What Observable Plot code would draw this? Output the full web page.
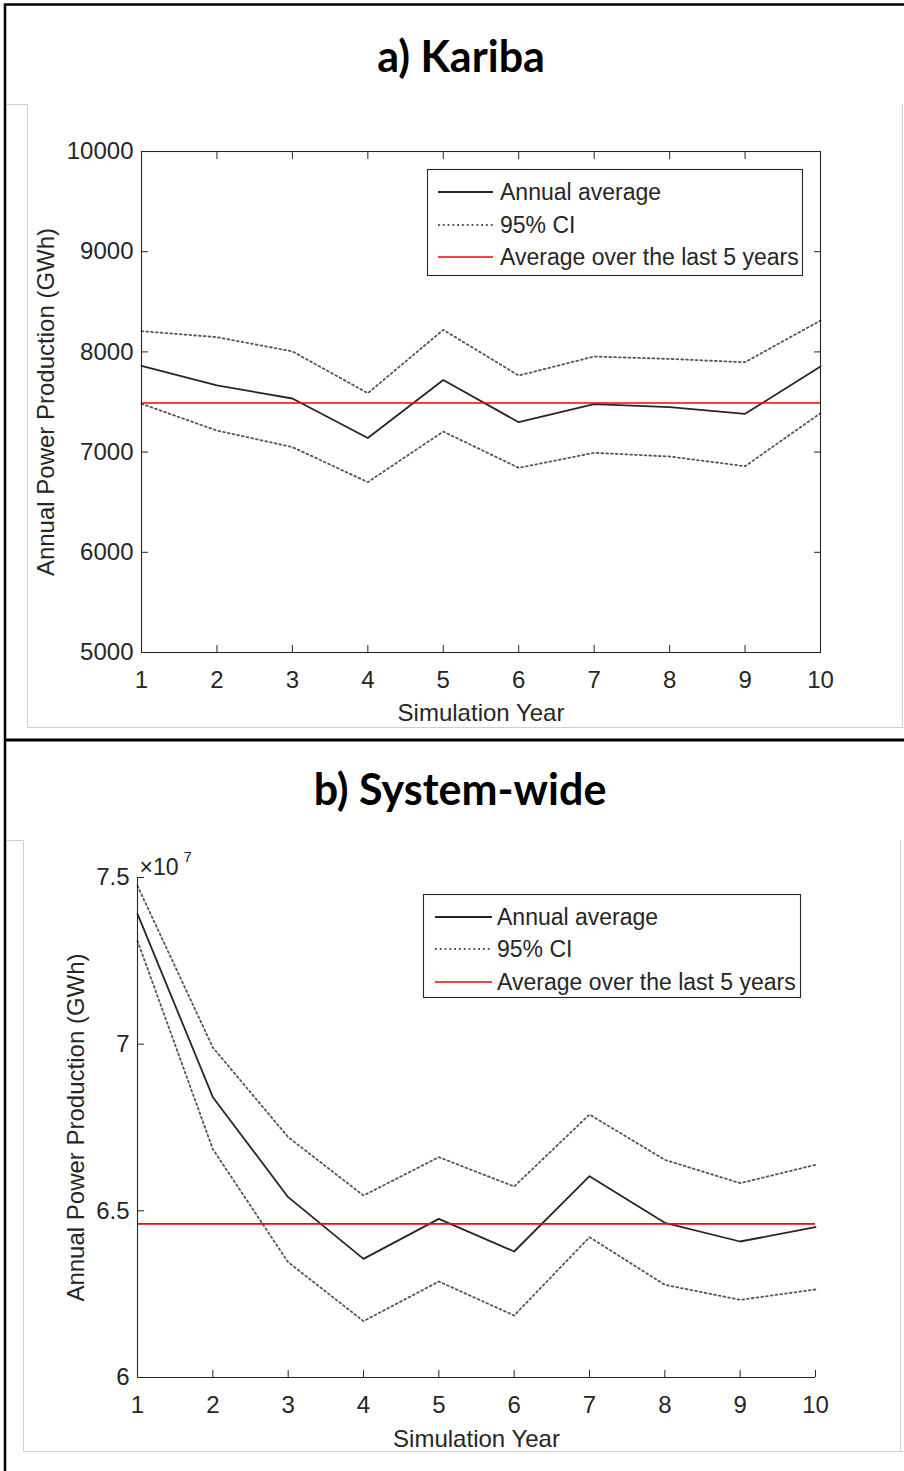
<!DOCTYPE html>
<html>
<head>
<meta charset="utf-8">
<script src="https://cdn.jsdelivr.net/npm/d3@7"></script>
<script src="https://cdn.jsdelivr.net/npm/@observablehq/plot@0.6"></script>
<style>
  html, body { margin: 0; padding: 0; background: #fff; }
  #page { position: relative; width: 904px; height: 1471px; overflow: hidden; background: #fff; }
  #page > svg { position: absolute; }
</style>
</head>
<body>
<div id="page"></div>
<script>
// ---------------- data ----------------
const years = [1, 2, 3, 4, 5, 6, 7, 8, 9, 10];

// a) Kariba (GWh)
const karibaAvg   = [7860, 7665, 7535, 7140, 7720, 7298, 7478, 7448, 7382, 7854];
const karibaUpper = [8207, 8147, 8005, 7588, 8220, 7764, 7954, 7930, 7897, 8313];
const karibaLower = [7482, 7215, 7050, 6700, 7205, 6843, 6993, 6956, 6859, 7388];
const karibaLast5 = 7490;
const karibaTicks = [5000, 6000, 7000, 8000, 9000, 10000];

// b) System-wide (x 10^7 GWh)
const systemAvg   = [7.391, 6.841, 6.541, 6.356, 6.476, 6.378, 6.604, 6.464, 6.408, 6.451];
const systemUpper = [7.475, 6.990, 6.721, 6.546, 6.661, 6.573, 6.789, 6.653, 6.583, 6.638];
const systemLower = [7.310, 6.685, 6.346, 6.169, 6.288, 6.186, 6.421, 6.278, 6.233, 6.264];
const systemLast5 = 6.461;
const systemTicks = [6, 6.5, 7, 7.5];

const titles = ["a) Kariba", "b) System-wide"];
const xLabel = "Simulation Year";
const yLabel = "Annual Power Production (GWh)";
const legendLabels = ["Annual average", "95% CI", "Average over the last 5 years"];

// ---------------- styles ----------------
const ink = "#262626";
const ciColor = "#555555";
const redColor = "#ff0000";
const sansFont = "'Liberation Sans', Arial, Helvetica, sans-serif";
const titleFont = "Lato, 'Open Sans', sans-serif";
const ciDash = "1.8,3";

const page = document.getElementById("page");

// ---------------- background (borders, titles) ----------------
const bg = d3.create("svg").attr("width", 904).attr("height", 1471)
  .style("left", "0px").style("top", "0px");
const grey = "#cfcfcf";
bg.append("path").attr("fill", "none").attr("stroke", grey).attr("stroke-width", 1)
  .attr("d", "M5,104.5H27.5V727.5H903.5M902.5,104V727");
bg.append("path").attr("fill", "none").attr("stroke", grey).attr("stroke-width", 1)
  .attr("d", "M5,840.5H23.5V1451.5H903.5M900.5,840V1451");
bg.append("path").attr("fill", "none").attr("stroke", "#000").attr("stroke-width", 2.5)
  .attr("d", "M5,1471V4.5H904");
bg.append("rect").attr("x", 4).attr("y", 738.5).attr("width", 900).attr("height", 3).attr("fill", "#000");
bg.append("text").attr("x", 461).attr("y", 72).attr("text-anchor", "middle")
  .attr("font-family", titleFont).attr("font-weight", 700).attr("font-size", 43).attr("fill", "#000")
  .text(titles[0]);
bg.append("text").attr("x", 460).attr("y", 805).attr("text-anchor", "middle")
  .attr("font-family", titleFont).attr("font-weight", 700).attr("font-size", 43).attr("fill", "#000")
  .text(titles[1]);
page.appendChild(bg.node());

// ---------------- panels ----------------
function makePanel(cfg) {
  const marks = [
    Plot.line(cfg.upper, {x: years, y: d => d, stroke: ciColor, strokeWidth: 1.8, strokeDasharray: ciDash}),
    Plot.line(cfg.lower, {x: years, y: d => d, stroke: ciColor, strokeWidth: 1.8, strokeDasharray: ciDash}),
    Plot.line(cfg.avg, {x: years, y: d => d, stroke: ink, strokeWidth: 1.8}),
    Plot.ruleY([cfg.last5], {stroke: redColor, strokeWidth: 1.7}),
    Plot.axisX({ticks: years, anchor: "bottom", tickSize: -7, tickPadding: 25, tickFormat: d3.format("d"),
      label: null, color: ink, fontSize: 24}),
    Plot.axisY({ticks: cfg.yTicks, anchor: "left", tickSize: -7, tickPadding: 15, tickFormat: cfg.yFormat,
      label: null, color: ink, fontSize: 24}),
    Plot.text([xLabel], {text: d => d, frameAnchor: "bottom", textAnchor: "middle", dy: cfg.xLabelDy,
      fontSize: 24, fill: ink, lineAnchor: "middle"}),
    Plot.text([yLabel], {text: d => d, frameAnchor: "left", textAnchor: "middle", dx: cfg.yLabelDx, rotate: -90,
      fontSize: 24, fill: ink, lineAnchor: "middle"})
  ];
  if (cfg.box) {
    marks.push(
      Plot.frame({stroke: ink, strokeWidth: 1.1}),
      Plot.axisX({ticks: years, anchor: "top", tickSize: -7, tickFormat: () => "", label: null, color: ink}),
      Plot.axisY({ticks: cfg.yTicks, anchor: "right", tickSize: -7, tickFormat: () => "", label: null, color: ink})
    );
  } else {
    marks.push(
      Plot.ruleX([years[0]], {stroke: ink, strokeWidth: 1.1}),
      Plot.ruleY([cfg.yDomain[0]], {stroke: ink, strokeWidth: 1.1})
    );
  }
  if (cfg.exponent) {
    marks.push(
      Plot.text(["\u00d710"], {text: d => d, frameAnchor: "top-left", textAnchor: "start", lineAnchor: "bottom",
        dx: 2, dy: -3, fontSize: 23, fill: ink}),
      Plot.text([cfg.exponent], {text: d => d, frameAnchor: "top-left", textAnchor: "start", lineAnchor: "bottom",
        dx: 46, dy: -16, fontSize: 15, fill: ink})
    );
  }
  return Plot.plot({
    width: 904,
    height: cfg.height,
    marginTop: cfg.mt, marginRight: cfg.mr, marginBottom: cfg.mb, marginLeft: cfg.ml,
    style: {background: "transparent", overflow: "visible", fontFamily: sansFont, fontSize: "24px", color: ink},
    x: {domain: [years[0], years[years.length - 1]]},
    y: {domain: cfg.yDomain},
    marks
  });
}

const p1 = makePanel({
  avg: karibaAvg, upper: karibaUpper, lower: karibaLower, last5: karibaLast5,
  yDomain: [5000, 10000], yTicks: karibaTicks, yFormat: d3.format("d"),
  height: 620, mt: 41, mr: 84, mb: 78, ml: 141, box: true, yLabelDx: -95, xLabelDy: 61
});
p1.style.left = "0px"; p1.style.top = "110px";
page.appendChild(p1);

const p2 = makePanel({
  avg: systemAvg, upper: systemUpper, lower: systemLower, last5: systemLast5,
  yDomain: [6, 7.5], yTicks: systemTicks, yFormat: d => String(d),
  height: 600, mt: 32, mr: 89, mb: 68, ml: 137, box: false, yLabelDx: -61, xLabelDy: 62, exponent: "7"
});
p2.style.left = "0px"; p2.style.top = "845px";
page.appendChild(p2);

// ---------------- legends ----------------
function legend(x, y, w, h, rowY, lineX0, lineX1, textX) {
  const s = d3.create("svg").attr("width", 904).attr("height", 1471).style("left", "0px").style("top", "0px");
  s.append("rect").attr("x", x + 0.5).attr("y", y + 0.5).attr("width", w).attr("height", h)
    .attr("fill", "#fff").attr("stroke", ink).attr("stroke-width", 1.1);
  const styles = [
    {stroke: ink, dash: null, width: 1.8},
    {stroke: ciColor, dash: ciDash, width: 1.8},
    {stroke: redColor, dash: null, width: 1.7}
  ];
  legendLabels.forEach((lab, i) => {
    const yy = y + rowY[i];
    s.append("line").attr("x1", lineX0).attr("x2", lineX1).attr("y1", yy).attr("y2", yy)
      .attr("stroke", styles[i].stroke).attr("stroke-width", styles[i].width)
      .attr("stroke-dasharray", styles[i].dash);
    s.append("text").attr("x", textX).attr("y", yy).attr("dy", "0.35em")
      .attr("font-family", sansFont).attr("font-size", 23).attr("fill", ink).text(lab);
  });
  page.appendChild(s.node());
}
legend(427, 169, 375, 106, [23, 56, 88], 438, 493, 500);
legend(423, 894, 377, 103, [23, 55, 88], 435, 492, 497);
</script>
</body>
</html>
